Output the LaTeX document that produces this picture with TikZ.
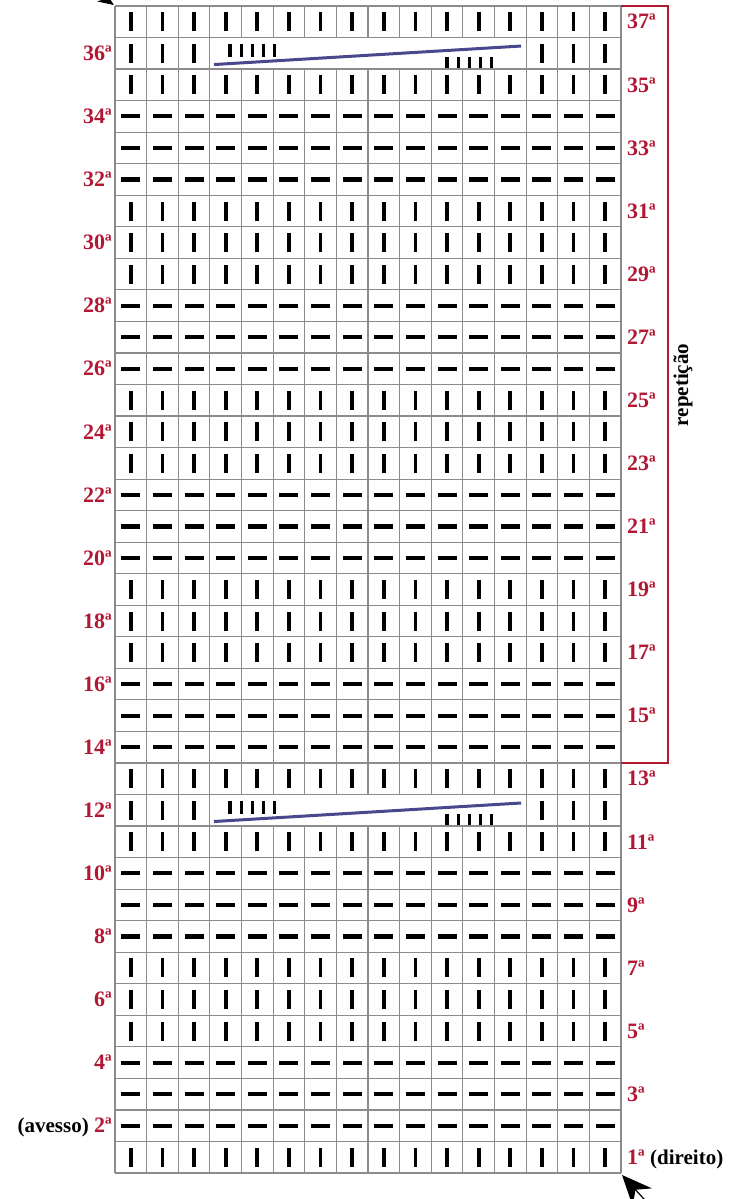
\documentclass[tikz,border=0pt]{standalone}
\usepackage{fontspec}
\setmainfont{Liberation Serif}
\usetikzlibrary{arrows.meta}
\definecolor{lblred}{RGB}{178,24,52}
\definecolor{gridgray}{RGB}{140,140,140}
\definecolor{cableblue}{RGB}{72,72,140}
\begin{document}
\begin{tikzpicture}[x=1pt,y=-1pt,
  gridline/.style={draw=gridgray, line width=1.2pt},
  lbl/.style={font=\fontsize{22}{22}\selectfont\bfseries, text=lblred, inner sep=0pt},
  blk/.style={font=\fontsize{21}{21}\selectfont\bfseries, text=black, inner sep=0pt},
  stitch/.style={fill=black},
  cableline/.style={draw=cableblue, line width=3pt},
  bracket/.style={draw=lblred, line width=1.4pt}]
\useasboundingbox (0,0) rectangle (729,1199);
\def\Xo{115}\def\Wc{31.625}\def\Yo{6}\def\Hr{31.54}
\pgfmathsetmacro{\Xe}{\Xo+16*\Wc}
\pgfmathsetmacro{\Ye}{\Yo+37*\Hr}
% grid
\foreach \r in {0,...,37}{
  \draw[gridline] (\Xo,\Yo+\r*\Hr) -- (\Xe,\Yo+\r*\Hr);
}
\foreach \c in {0,...,16}{
  \draw[gridline] (\Xo+\c*\Wc,\Yo) -- (\Xo+\c*\Wc,\Ye);
}
% merged cable cells
\foreach \r in {12,36}{
  \pgfmathsetmacro{\rt}{\Yo+(37-\r)*\Hr}
  \fill[white] (\Xo+3*\Wc+0.7,\rt+0.7) rectangle (\Xo+13*\Wc-0.7,\rt+\Hr-0.7);
}
% stitches
\foreach \r in {1,...,37}{
  \pgfmathsetmacro{\rc}{\Yo+(37-\r)*\Hr+\Hr/2}
  \pgfmathtruncatemacro{\m}{mod(\r-1,6)}
  \pgfmathtruncatemacro{\cab}{(\r==12)||(\r==36)}
  \foreach \c in {1,...,16}{
    \pgfmathsetmacro{\cx}{\Xo+(\c-0.5)*\Wc}
    \pgfmathtruncatemacro{\skip}{(\cab==1)&&(\c>3)&&(\c<14)}
    \ifnum\skip=0
      \pgfmathtruncatemacro{\purl}{(\m>0)&&(\m<4)}
      \ifnum\purl=1
        \fill[stitch] (\cx-9.5,\rc-2.1) rectangle (\cx+9.5,\rc+2.1);
      \else
        \fill[stitch] (\cx-1.9,\rc-9.5) rectangle (\cx+1.9,\rc+9.5);
      \fi
    \fi
  }
}
% cable details
\foreach \r in {12,36}{
  \pgfmathsetmacro{\rt}{\Yo+(37-\r)*\Hr}
  \foreach \bx in {230,241.2,252.4,263.6,274.8}{
    \fill[stitch] (\bx-1.6,\rt+6.5) rectangle (\bx+1.6,\rt+19);
  }
  \foreach \bx in {447,458.2,469.4,480.6,491.8}{
    \fill[stitch] (\bx-1.6,\rt+19) rectangle (\bx+1.6,\rt+30.5);
  }
  \draw[cableline] (214,\rt+27) -- (521,\rt+8.5);
}
% bracket
\draw[bracket] (\Xe,\Yo) -- (668,\Yo) -- (668,\Yo+24*\Hr) -- (\Xe,\Yo+24*\Hr);
\node[blk, rotate=90] (rep) at (683,385) {repetição};
% row labels
\foreach \r in {3,5,...,37}{
  \pgfmathsetmacro{\rc}{\Yo+(37-\r)*\Hr+\Hr/2}
  \node[lbl, anchor=west] (lab\r) at (627,\rc) {\r ª};
}
\foreach \r in {4,6,...,36}{
  \pgfmathsetmacro{\rc}{\Yo+(37-\r)*\Hr+\Hr/2}
  \node[lbl, anchor=east] (lab\r) at (112,\rc) {\r ª};
}
\pgfmathsetmacro{\rcone}{\Yo+36*\Hr+\Hr/2}
\pgfmathsetmacro{\rctwo}{\Yo+35*\Hr+\Hr/2}
\node[lbl, anchor=west] (lab1) at (627,\rcone) {1ª};
\node[blk, anchor=base west, xshift=5pt] (dir) at (lab1.base east) {(direito)};
\node[lbl, anchor=east] (lab2) at (112,\rctwo) {2ª};
\node[blk, anchor=base east, xshift=-5pt] (av) at (lab2.base west) {(avesso)};
% corner arrows
\coordinate (gtl) at (\Xo-1,\Yo-1);
\coordinate (gbr) at (\Xe+1,\Ye+2);
\coordinate (atl) at (80,-18);
\coordinate (abr) at (665,1222);
\draw[line width=1pt, -{Stealth[length=16pt,width=13pt]}] (atl) -- (gtl);
\draw[line width=1.2pt, -{Stealth[length=30pt,width=26pt,inset=10pt]}] (abr) -- (gbr);
\end{tikzpicture}
\end{document}
